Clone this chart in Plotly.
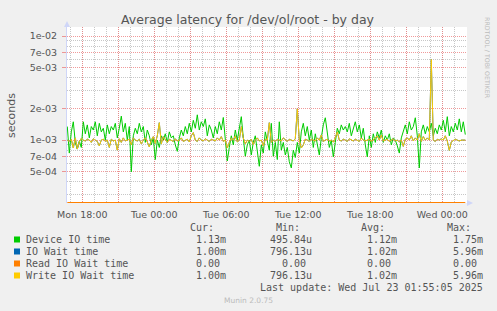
import pandas as pd
import plotly.graph_objects as go

# ---------------- data (milliseconds, 10-minute samples) ----------------
start_time = "2025-07-21 16:45"
n_points = 200

device_io_ms = [
    1.35, 0.75, 1.20, 1.50, 0.95, 0.82, 0.98, 0.85, 1.50, 1.15,
    1.40, 1.05, 1.35, 1.25, 1.50, 1.10, 1.45, 1.20, 1.30, 1.00,
    1.40, 1.15, 1.35, 1.25, 1.45, 1.05, 1.30, 1.70, 1.20, 1.45,
    1.00, 1.35, 0.496, 1.10, 1.30, 1.15, 1.45, 1.20, 1.35, 0.95,
    1.25, 1.10, 0.90, 1.05, 0.65, 1.00, 0.85, 1.10, 1.00, 1.15,
    0.95, 1.20, 1.05, 1.10, 0.90, 0.78, 1.05, 1.25, 1.10, 1.35,
    1.15, 1.45, 1.20, 1.55, 1.30, 1.75, 1.25, 1.50, 1.35, 1.60,
    1.10, 1.40, 1.25, 1.05, 1.35, 1.15, 1.50, 1.25, 1.65, 0.95,
    0.63, 0.85, 1.10, 0.90, 1.25, 1.00, 1.35, 1.68, 1.05, 0.70,
    0.90, 1.00, 0.72, 0.95, 1.10, 0.80, 0.56, 0.90, 0.75, 1.20,
    1.00, 0.80, 1.45, 0.70, 0.95, 0.65, 1.50, 0.80, 0.95, 0.72,
    0.85, 0.62, 0.54, 0.80, 0.68, 0.95, 0.75, 1.20, 1.45, 1.10,
    1.35, 1.00, 1.25, 0.85, 1.15, 0.90, 0.72, 1.05, 1.40, 1.64,
    1.10, 0.85, 1.00, 0.69, 0.95, 1.30, 1.15, 1.40, 1.25, 1.35,
    1.20, 1.45, 1.10, 1.30, 1.50, 1.20, 1.40, 1.05, 1.30, 0.90,
    0.69, 1.10, 0.85, 1.15, 0.95, 1.20, 1.05, 1.25, 0.95, 1.10,
    1.00, 1.15, 0.90, 1.05, 1.00, 0.88, 0.75, 1.05, 1.20, 1.40,
    1.15, 1.50, 1.25, 1.35, 1.64, 1.10, 0.54, 1.20, 1.40, 1.15,
    1.35, 1.20, 1.45, 1.10, 1.30, 1.15, 1.40, 1.25, 1.55, 1.20,
    1.68, 1.10, 1.35, 1.20, 1.45, 1.25, 1.60, 1.20, 1.50, 1.13,
]

write_io_wait_ms = [
    1.00, 0.97, 1.02, 0.84, 1.05, 0.82, 0.96, 1.04, 1.00, 0.98,
    1.02, 1.00, 0.95, 1.03, 1.00, 0.97, 0.88, 1.00, 1.02, 0.97,
    1.00, 0.85, 1.02, 0.98, 1.00, 0.80, 1.03, 0.95, 1.05, 0.98,
    1.00, 1.02, 0.90, 1.05, 1.00, 0.98, 1.02, 0.92, 1.00, 1.05,
    0.96, 0.86, 1.00, 1.08, 0.93, 1.10, 1.47, 0.92, 1.08, 1.00,
    0.95, 1.02, 1.00, 0.97, 1.03, 0.98, 1.00, 1.05, 0.97, 1.00,
    1.02, 0.96, 1.10, 1.18, 1.00, 0.97, 1.05, 1.00, 0.98, 1.03,
    1.00, 0.97, 1.02, 1.00, 0.98, 1.05, 1.00, 1.08, 0.97, 1.00,
    0.84, 0.95, 1.05, 1.00, 1.10, 0.96, 1.00, 1.35, 1.05, 0.92,
    1.00, 0.97, 1.02, 0.90, 1.00, 1.05, 0.98, 1.00, 0.88, 1.02,
    1.00, 1.47, 0.95, 1.00, 0.97, 1.02, 1.00, 0.98, 1.05, 1.00,
    0.97, 1.02, 1.00, 0.98, 1.03, 2.00, 1.00, 0.84, 0.90, 1.02,
    1.00, 0.97, 1.02, 1.00, 0.98, 1.05, 1.00, 1.12, 0.97, 1.00,
    1.02, 0.98, 1.00, 0.96, 1.05, 1.20, 1.00, 0.98, 1.02, 1.00,
    0.97, 1.03, 1.00, 0.98, 1.02, 1.00, 0.97, 1.05, 1.00, 0.98,
    1.00, 1.02, 0.97, 1.00, 1.05, 1.10, 1.00, 1.12, 0.98, 1.00,
    1.02, 0.97, 1.00, 1.03, 0.98, 1.00, 0.96, 1.00, 0.87, 1.02,
    1.05, 1.00, 1.10, 0.98, 1.05, 1.00, 1.15, 0.97, 1.08, 1.00,
    1.05, 1.00, 5.96, 1.00, 0.97, 1.02, 1.00, 1.03, 1.00, 1.10,
    0.98, 0.796, 0.96, 1.00, 1.02, 1.00, 0.98, 1.00, 1.00, 1.00,
]

# IO wait time is identical to write IO wait time (same stats in legend)
io_wait_ms = list(write_io_wait_ms)
# Read IO wait time is zero throughout
read_io_wait_ms = [0.0] * n_points

series_names = ["Device IO time", "IO Wait time", "Read IO Wait time", "Write IO Wait time"]
series_colors = ["#00CC00", "#0066B3", "#FF8000", "#FFCC00"]
stat_headers = ["Cur:", "Min:", "Avg:", "Max:"]
stat_cur = ["1.13m", "1.00m", "0.00\u00a0", "1.00m"]
stat_min = ["495.84u", "796.13u", "0.00\u00a0", "796.13u"]
stat_avg = ["1.12m", "1.02m", "0.00\u00a0", "1.02m"]
stat_max = ["1.75m", "5.96m", "0.00\u00a0", "5.96m"]

y_tick_vals = [5e-4, 7e-4, 1e-3, 2e-3, 5e-3, 7e-3, 1e-2]
y_tick_text = ["5e-04", "7e-04", "1e-03", "2e-03", "5e-03", "7e-03", "1e-02"]
y_minor_vals = [3e-4, 4e-4, 6e-4, 8e-4, 9e-4, 3e-3, 4e-3, 6e-3, 8e-3, 9e-3]

title_text = "Average latency for /dev/ol/root - by day"
last_update = "Last update: Wed Jul 23 01:55:05 2025"

# ---------------- layout geometry ----------------
W, H = 497, 311
L, PW = 67, 400
T, PH = 27, 176
Y_LOG_RANGE = [-3.6048, -1.9125]
X_RANGE = ["2025-07-21 16:43:30", "2025-07-23 02:03:30"]


def px(x):
    return (x - L) / PW


def py(y):
    return (T + PH - y) / PH


times = pd.date_range(start_time, periods=n_points, freq="10min")
y_floor = 10 ** Y_LOG_RANGE[0]

fig = go.Figure()
all_series = [device_io_ms, io_wait_ms, read_io_wait_ms, write_io_wait_ms]
for name, color, vals in zip(series_names, series_colors, all_series):
    yv = [max(v * 1e-3, y_floor) for v in vals]
    fig.add_trace(go.Scatter(
        x=times, y=yv, mode="lines", name=name,
        line=dict(color=color, width=2 if vals is read_io_wait_ms else 1),
        showlegend=False, hoverinfo="skip",
    ))

# x ticks
major_x = pd.date_range("2025-07-21 18:00", "2025-07-23 00:00", freq="3h")
major_x_text = [t.strftime("%a %H:%M") if t.hour % 6 == 0 else "" for t in major_x]

grid_major = "rgba(235,120,120,0.75)"
grid_minor = "rgba(180,180,180,0.75)"
font_color = "#555555"

fig.update_xaxes(
    range=X_RANGE, type="date",
    tickmode="array", tickvals=major_x, ticktext=major_x_text,
    showgrid=True, gridcolor=grid_major, griddash="1px,1px", gridwidth=1,
    minor=dict(dtick=3600000, tick0="2025-07-21 00:00", showgrid=True,
               gridcolor=grid_minor, griddash="1px,1px", gridwidth=1),
    ticks="outside", ticklen=3, tickcolor="rgba(0,0,0,0)",
    tickfont=dict(family="DejaVu Sans", size=9.5, color=font_color),
    showline=False, zeroline=False, fixedrange=True,
)
fig.update_yaxes(
    type="log", range=Y_LOG_RANGE,
    tickmode="array", tickvals=y_tick_vals, ticktext=y_tick_text,
    showgrid=True, gridcolor=grid_major, griddash="1px,1px", gridwidth=1,
    minor=dict(tickmode="array", tickvals=y_minor_vals, showgrid=True,
               gridcolor=grid_minor, griddash="1px,1px", gridwidth=1),
    ticks="outside", ticklen=4, tickcolor=grid_major,
    ticklabelstandoff=3,
    tickfont=dict(family="DejaVu Sans", size=9.5, color=font_color),
    showline=True, linecolor="#CFD6F8", linewidth=1,
    zeroline=False, fixedrange=True,
)

shapes = []
# axis arrows
shapes.append(dict(type="path", xref="paper", yref="paper",
                   path=f"M {px(64)} {py(27)} L {px(70)} {py(27)} L {px(67)} {py(21)} Z",
                   fillcolor="#CFD6F8", line=dict(width=0)))
shapes.append(dict(type="path", xref="paper", yref="paper",
                   path=f"M {px(467)} {py(200)} L {px(467)} {py(206)} L {px(473)} {py(203)} Z",
                   fillcolor="#CFD6F8", line=dict(width=0)))

annotations = []


def add_text(text, x, y, size, color=font_color, family="DejaVu Sans", xanchor="center", angle=0):
    annotations.append(dict(
        text=text, x=px(x), y=py(y), xref="paper", yref="paper",
        xanchor=xanchor, yanchor="middle", showarrow=False, textangle=angle,
        font=dict(family=family, size=size, color=color), borderpad=0, borderwidth=0,
    ))


add_text(title_text, 248, 19, 12.5, color="#555555")
add_text("seconds", 11, 115, 11, angle=-90)
add_text("RRDTOOL / TOBI OETIKER", 488, 58, 6.3, color="#BBBBBB", angle=90)

mono = "DejaVu Sans Mono"
row_y = [239.5, 251.5, 263.5, 275.5]
header_left = [190, 275.5, 361, 446.5]
value_right = [226, 311.5, 397, 482.7]
for hx, htxt in zip(header_left, stat_headers):
    add_text(htxt, hx, 227.5, 10, family=mono, xanchor="left")
for i, name in enumerate(series_names):
    yy = row_y[i]
    shapes.append(dict(type="rect", xref="paper", yref="paper",
                       x0=px(14), x1=px(20), y0=py(yy - 3), y1=py(yy + 3),
                       fillcolor=series_colors[i], line=dict(width=0)))
    add_text(name, 26, yy, 10, family=mono, xanchor="left")
    for col, vals in enumerate([stat_cur, stat_min, stat_avg, stat_max]):
        add_text(vals[i], value_right[col], yy, 10, family=mono, xanchor="right")
add_text(last_update, 482.7, 287.5, 10, family=mono, xanchor="right")
add_text("Munin 2.0.75", 248, 300, 7.5, color="#BBBBBB")

fig.update_layout(
    width=W, height=H,
    margin=dict(l=L, r=W - L - PW, t=T, b=H - T - PH, pad=0),
    paper_bgcolor="#F0F0F0", plot_bgcolor="#FFFFFF",
    shapes=shapes, annotations=annotations, showlegend=False,
)

fig.write_html("out.html", config={"displayModeBar": False})
